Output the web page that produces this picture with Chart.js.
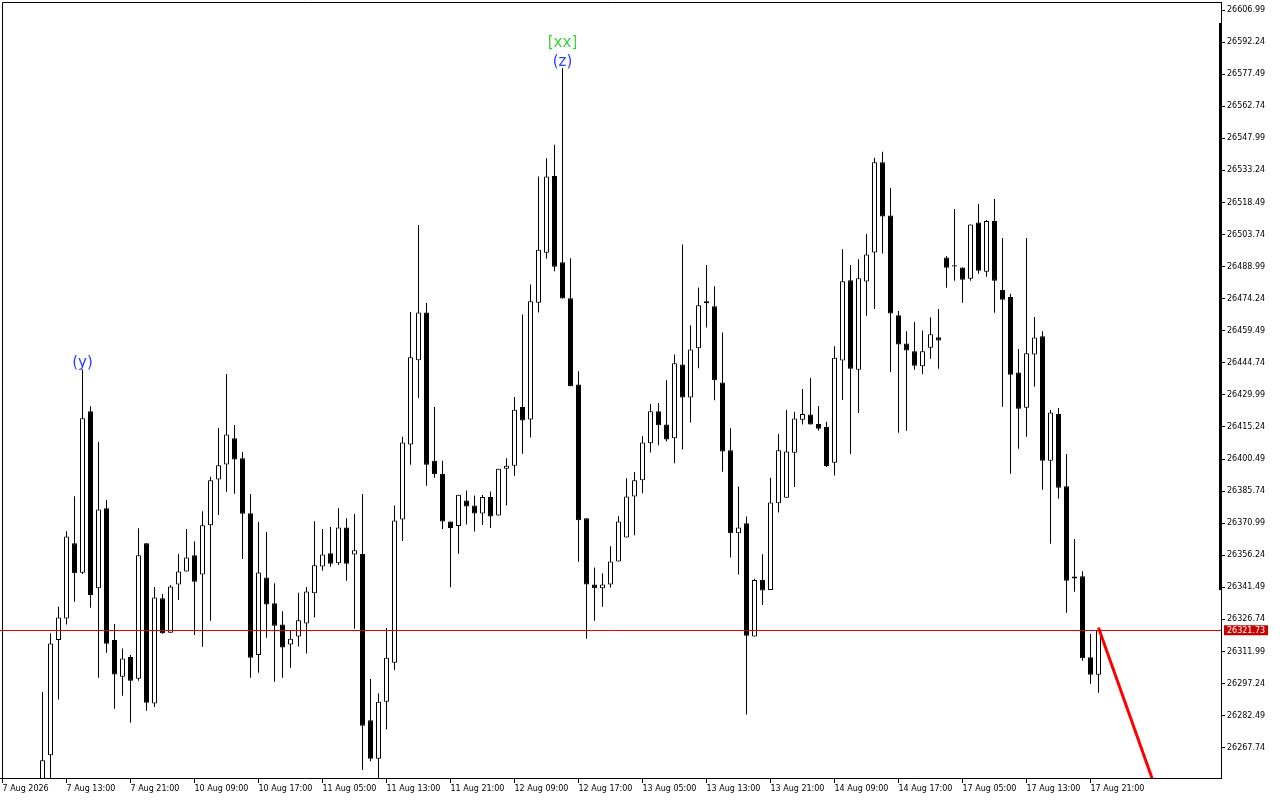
<!DOCTYPE html>
<html>
<head>
<meta charset="utf-8">
<script src="https://cdn.jsdelivr.net/npm/chart.js@4.4.0/dist/chart.umd.min.js"></script>
<style>
  html, body { margin: 0; padding: 0; background: #fff; }
  canvas { display: block; }
</style>
</head>
<body>
<canvas id="chart" width="1280" height="800"></canvas>
<script>
// Hourly candles, index 0 = "7 Aug 2026"; first five lie below the visible range
const opens = [
  null, null, null, null, null, 26243.6, 26264.3, 26317.2, 26327.2, 26361.8,
  26348.2, 26422.5, 26341.0, 26377.8, 26317.2, 26300.3, 26309.4, 26299.4, 26361.8, 26288.1,
  26336.5, 26320.6, 26342.8, 26348.8, 26356.2, 26347.4, 26370.0, 26391.1, 26398.0, 26410.0,
  26400.8, 26375.5, 26310.4, 26346.0, 26334.1, 26324.4, 26315.2, 26318.9, 26324.9, 26338.7,
  26351.1, 26357.1, 26352.5, 26369.0, 26356.6, 26356.8, 26280.4, 26262.6, 26288.9, 26306.8,
  26372.7, 26407.2, 26445.9, 26467.9, 26399.7, 26393.7, 26371.8, 26369.7, 26381.4, 26379.1,
  26375.4, 26383.0, 26374.5, 26396.0, 26397.4, 26424.4, 26418.7, 26472.4, 26495.4, 26530.6,
  26491.0, 26474.4, 26434.8, 26373.2, 26342.8, 26341.0, 26342.8, 26353.4, 26364.4, 26383.3,
  26390.7, 26407.7, 26422.4, 26416.4, 26410.0, 26444.0, 26428.8, 26451.4, 26472.1, 26470.7,
  26435.7, 26404.5, 26366.3, 26370.9, 26318.9, 26344.8, 26340.3, 26380.1, 26382.7, 26403.4,
  26418.6, 26421.0, 26416.6, 26415.2, 26398.8, 26445.8, 26482.7, 26441.5, 26482.1, 26495.5,
  26537.0, 26512.5, 26466.6, 26453.6, 26450.0, 26443.1, 26451.7, 26456.5, 26493.2, 26489.6,
  26488.6, 26483.4, 26509.3, 26486.6, 26509.9, 26478.2, 26475.0, 26440.3, 26424.1, 26448.6,
  26457.0, 26399.7, 26421.2, 26388.0, 26345.5, 26346.6, 26309.3, 26301.3
];
const highs = [
  null, null, null, null, null, 26293.3, 26320.4, 26332.5, 26367.3, 26383.4,
  26441.7, 26424.8, 26408.3, 26381.6, 26324.6, 26313.4, 26310.4, 26368.7, 26361.8, 26341.6,
  26338.4, 26342.5, 26356.8, 26368.3, 26362.7, 26376.5, 26392.3, 26414.7, 26439.6, 26416.1,
  26403.7, 26384.4, 26371.5, 26366.9, 26343.4, 26330.5, 26321.5, 26339.0, 26341.6, 26371.9,
  26368.3, 26369.2, 26377.9, 26373.3, 26375.2, 26384.4, 26299.3, 26292.8, 26322.8, 26379.1,
  26410.7, 26468.1, 26508.1, 26472.2, 26424.4, 26399.7, 26371.8, 26384.1, 26386.0, 26383.7,
  26383.9, 26385.5, 26396.0, 26400.8, 26429.0, 26467.0, 26480.7, 26530.4, 26538.8, 26545.0,
  26580.2, 26492.8, 26440.8, 26373.2, 26350.6, 26348.0, 26360.4, 26374.2, 26391.7, 26394.5,
  26411.0, 26425.8, 26426.2, 26436.7, 26448.6, 26499.2, 26462.0, 26479.4, 26489.7, 26479.9,
  26458.7, 26414.6, 26387.9, 26374.1, 26345.4, 26356.7, 26391.9, 26412.0, 26423.0, 26422.2,
  26432.7, 26437.8, 26424.9, 26417.6, 26452.4, 26497.0, 26489.7, 26492.4, 26504.0, 26539.0,
  26541.8, 26525.1, 26468.6, 26459.2, 26463.5, 26459.6, 26465.7, 26469.5, 26493.8, 26515.5,
  26488.6, 26508.4, 26517.8, 26510.4, 26520.1, 26502.1, 26476.5, 26451.1, 26502.1, 26465.8,
  26459.3, 26423.0, 26423.9, 26402.8, 26363.7, 26348.9, 26320.0, 26322.9
];
const lows = [
  null, null, null, null, null, 26236.7, 26250.5, 26289.9, 26324.4, 26334.8,
  26347.6, 26332.1, 26299.9, 26311.4, 26285.6, 26291.6, 26279.2, 26298.5, 26284.7, 26286.5,
  26320.1, 26320.6, 26335.7, 26348.8, 26319.5, 26314.1, 26326.1, 26374.8, 26385.4, 26384.5,
  26354.5, 26299.9, 26302.2, 26318.3, 26298.0, 26299.9, 26304.5, 26314.3, 26311.1, 26327.6,
  26349.1, 26350.9, 26351.8, 26344.5, 26322.4, 26257.5, 26261.5, 26251.9, 26276.1, 26303.5,
  26362.8, 26397.8, 26428.5, 26388.2, 26391.9, 26368.3, 26341.5, 26356.9, 26370.4, 26367.2,
  26370.1, 26368.8, 26374.5, 26379.1, 26392.8, 26402.9, 26410.4, 26467.9, 26492.6, 26486.9,
  26474.3, 26433.9, 26353.2, 26317.8, 26326.1, 26332.5, 26341.4, 26353.4, 26364.4, 26365.4,
  26384.7, 26403.5, 26406.8, 26408.6, 26398.5, 26404.9, 26417.3, 26442.2, 26461.0, 26427.5,
  26394.6, 26355.2, 26347.4, 26283.0, 26318.9, 26333.3, 26340.3, 26375.9, 26382.7, 26387.6,
  26416.4, 26416.4, 26413.5, 26396.8, 26392.9, 26427.6, 26402.8, 26421.7, 26466.4, 26469.5,
  26495.0, 26440.5, 26412.6, 26413.5, 26441.5, 26439.5, 26446.6, 26442.0, 26479.3, 26482.5,
  26472.4, 26482.5, 26485.7, 26484.3, 26467.8, 26424.5, 26393.7, 26405.2, 26410.7, 26433.7,
  26386.3, 26361.5, 26382.2, 26329.8, 26339.4, 26307.7, 26297.1, 26293.0
];
const closes = [
  null, null, null, null, null, 26262.0, 26315.7, 26327.6, 26364.9, 26347.9,
  26419.2, 26338.0, 26377.3, 26315.5, 26301.4, 26308.8, 26298.5, 26356.2, 26288.4, 26336.8,
  26320.4, 26341.9, 26348.8, 26355.2, 26344.0, 26370.0, 26390.7, 26397.6, 26411.8, 26400.3,
  26375.3, 26309.1, 26348.3, 26333.6, 26323.8, 26313.8, 26317.8, 26326.3, 26339.6, 26351.6,
  26356.6, 26352.3, 26369.0, 26352.3, 26358.5, 26277.8, 26262.6, 26288.9, 26309.1, 26372.2,
  26408.1, 26447.3, 26467.9, 26397.8, 26393.5, 26371.8, 26368.8, 26384.1, 26378.6, 26375.4,
  26383.0, 26374.1, 26396.0, 26397.4, 26423.2, 26418.2, 26473.1, 26496.7, 26530.4, 26488.9,
  26474.3, 26433.9, 26372.3, 26342.8, 26341.0, 26342.8, 26353.4, 26371.8, 26383.3, 26390.7,
  26408.1, 26422.4, 26416.0, 26409.5, 26444.5, 26428.8, 26450.9, 26471.2, 26473.0, 26436.7,
  26404.0, 26366.3, 26369.0, 26319.2, 26344.8, 26340.0, 26380.5, 26404.5, 26404.0, 26419.1,
  26421.2, 26416.4, 26414.4, 26397.3, 26447.1, 26482.2, 26442.0, 26483.6, 26494.6, 26537.0,
  26512.0, 26467.4, 26453.1, 26450.4, 26443.4, 26450.0, 26457.9, 26455.0, 26488.5, 26489.0,
  26482.9, 26508.4, 26487.1, 26509.9, 26482.5, 26473.7, 26439.2, 26423.6, 26449.1, 26456.4,
  26399.7, 26421.9, 26387.3, 26344.5, 26346.5, 26308.9, 26301.3, 26321.73
];

// one label every 8 bars
const tickLabels = [
  '7 Aug 2026', '7 Aug 13:00', '7 Aug 21:00', '10 Aug 09:00', '10 Aug 17:00', '11 Aug 05:00',
  '11 Aug 13:00', '11 Aug 21:00', '12 Aug 09:00', '12 Aug 17:00', '13 Aug 05:00', '13 Aug 13:00',
  '13 Aug 21:00', '14 Aug 09:00', '14 Aug 17:00', '17 Aug 05:00', '17 Aug 13:00', '17 Aug 21:00'
];
const priceTicks = [
  26606.99, 26592.24, 26577.49, 26562.74, 26547.99, 26533.24, 26518.49, 26503.74,
  26488.99, 26474.24, 26459.49, 26444.74, 26429.99, 26415.24, 26400.49, 26385.74,
  26370.99, 26356.24, 26341.49, 26326.74, 26311.99, 26297.24, 26282.49, 26267.74
];

const bidPrice = 26321.73;
const trendBars = [137, 152];
const trendPrices = [26322.9, 26167.8];
const waveMarks = [
  { bar: 10, text: '(y)', color: '#2a3cff', lift: 0 },
  { bar: 70, text: '(z)', color: '#2a3cff', lift: 0 },
  { bar: 70, text: '[xx]', color: '#3cd23c', lift: 19 }
];
const rangeBar = [26601.0, 26340.2];

const FONT = "'DejaVu Sans', sans-serif";
Chart.defaults.font.family = FONT;
Chart.defaults.font.size = 8;
Chart.defaults.color = '#000';

const bars = opens.map((o, i) => i).filter(i => opens[i] != null);
const wickData = bars.map(i => ({ x: i, y: [lows[i], highs[i]] }));
const bodyData = bars.map(i => ({ x: i, y: [opens[i], closes[i]] }));
const bodyColors = bars.map(i => closes[i] < opens[i] ? '#000000' : '#ffffff');

const overlay = {
  id: 'overlay',
  afterDatasetsDraw(chart) {
    const { ctx, chartArea: a, scales: { x, y } } = chart;
    ctx.save();
    // bid line
    const yb = Math.round(y.getPixelForValue(bidPrice)) + 0.5;
    ctx.strokeStyle = '#e00000';
    ctx.lineWidth = 1;
    ctx.beginPath();
    ctx.moveTo(a.left, yb);
    ctx.lineTo(a.right, yb);
    ctx.stroke();
    // wave labels
    ctx.font = '15px ' + FONT;
    ctx.textAlign = 'center';
    ctx.textBaseline = 'bottom';
    waveMarks.forEach(m => {
      ctx.fillStyle = m.color;
      ctx.fillText(m.text, x.getPixelForValue(m.bar), y.getPixelForValue(highs[m.bar]) + 1 - m.lift);
    });
    ctx.restore();
  },
  afterDraw(chart) {
    const { ctx, chartArea: a, scales: { y } } = chart;
    ctx.save();
    ctx.strokeStyle = '#000';
    ctx.lineWidth = 1;
    ctx.beginPath();
    ctx.moveTo(2.5, a.bottom);
    ctx.lineTo(2.5, a.top + 0.5);
    ctx.lineTo(a.right + 1, a.top + 0.5);
    ctx.stroke();
    // thick range marker on price scale edge
    ctx.fillStyle = '#000';
    const t = y.getPixelForValue(rangeBar[0]);
    const b = y.getPixelForValue(rangeBar[1]);
    ctx.fillRect(a.right - 2, t, 3, b - t);
    // bid price tag
    const yb = y.getPixelForValue(bidPrice);
    ctx.fillStyle = '#c80000';
    ctx.fillRect(a.right + 3, yb - 5, 44, 10);
    ctx.fillStyle = '#fff';
    ctx.font = '8px ' + FONT;
    ctx.textAlign = 'left';
    ctx.textBaseline = 'middle';
    ctx.fillText(bidPrice.toFixed(2), a.right + 6, yb + 0.5);
    ctx.restore();
  }
};

new Chart(document.getElementById('chart').getContext('2d'), {
  type: 'bar',
  data: {
    datasets: [{
      label: 'wick',
      data: wickData,
      backgroundColor: '#000',
      borderWidth: 0,
      barThickness: 1,
      grouped: false,
      inflateAmount: 0,
      order: 3
    }, {
      label: 'body',
      data: bodyData,
      backgroundColor: bodyColors,
      borderColor: '#000',
      borderWidth: 1,
      borderSkipped: false,
      barThickness: 5,
      minBarLength: 1,
      grouped: false,
      inflateAmount: 0,
      order: 2
    }, {
      type: 'line',
      label: 'trend',
      data: trendBars.map((b, i) => ({ x: b, y: trendPrices[i] })),
      borderColor: '#ff0000',
      borderWidth: 3,
      pointRadius: 0,
      order: 1
    }]
  },
  options: {
    responsive: false,
    animation: false,
    devicePixelRatio: 1,
    layout: { padding: { left: 0, top: 2, right: 0, bottom: 0 } },
    plugins: { legend: { display: false }, tooltip: { enabled: false } },
    scales: {
      x: {
        type: 'linear',
        min: -0.3125,
        max: 152.3125,
        offset: false,
        afterBuildTicks: (s) => { s.ticks = tickLabels.map((_, i) => ({ value: i * 8 })); },
        afterFit: (s) => { s.height = 22; s.paddingLeft = 0; s.paddingRight = 0; },
        ticks: {
          autoSkip: false,
          maxRotation: 0,
          align: 'start',
          padding: 1,
          color: '#000',
          font: { size: 8 },
          callback: (v, i) => tickLabels[i]
        },
        grid: { offset: false, drawOnChartArea: false, drawTicks: true, tickLength: 5, color: '#000' },
        border: { display: true, color: '#000' }
      },
      y: {
        position: 'right',
        min: 26253.79,
        max: 26610.67,
        afterBuildTicks: (s) => { s.ticks = priceTicks.map(v => ({ value: v })); },
        afterFit: (s) => { s.width = 59; s.paddingTop = 0; s.paddingBottom = 0; },
        ticks: {
          autoSkip: false,
          padding: 2,
          color: '#000',
          font: { size: 8 },
          callback: (v) => Number(v).toFixed(2)
        },
        grid: { drawOnChartArea: false, drawTicks: true, tickLength: 4, color: '#000' },
        border: { display: true, color: '#000' }
      }
    }
  },
  plugins: [overlay]
});
</script>
</body>
</html>
